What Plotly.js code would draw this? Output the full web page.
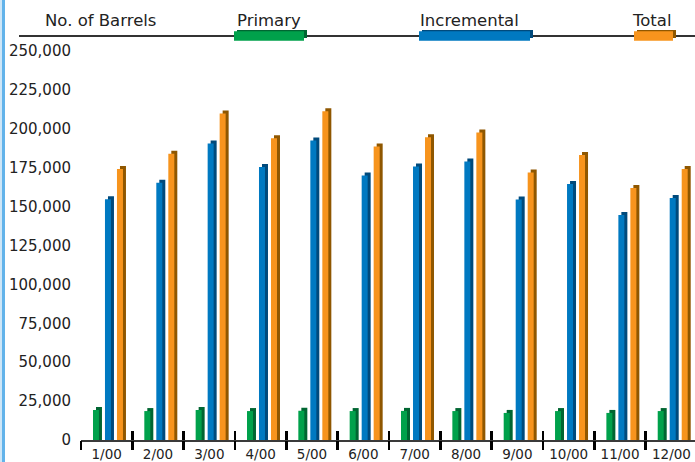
<!DOCTYPE html>
<html>
<head>
<meta charset="utf-8">
<script src="https://cdn.plot.ly/plotly-3.0.1.min.js"></script>
<style>
  html, body { margin: 0; padding: 0; background: #ffffff; }
  #wrap { position: relative; width: 695px; height: 462px; overflow: hidden; }
  #chart { position: absolute; left: 0; top: 0; width: 695px; height: 462px; }
  #edge1 { position: absolute; left: 0; top: 0; width: 2px; height: 462px; background: #cde6f7; }
  #edge2 { position: absolute; left: 2px; top: 0; width: 3px; height: 462px; background: #62b3ea; }
</style>
</head>
<body>
<div id="wrap">
  <div id="chart"></div>
  <div id="edge1"></div>
  <div id="edge2"></div>
</div>
<script>
// ---- data ----
const months = ['1/00', '2/00', '3/00', '4/00', '5/00', '6/00', '7/00', '8/00', '9/00', '10/00', '11/00', '12/00'];
const primary = [19300, 18600, 19300, 18600, 18800, 18600, 18700, 18600, 17400, 18600, 17400, 18600];
const incremental = [154800, 165300, 190500, 175400, 192500, 170000, 175800, 179000, 154500, 164500, 144600, 155500];
const total = [174100, 183900, 209800, 194000, 211300, 188600, 194500, 197600, 171900, 183100, 162000, 174100];
const yTickVals = [0, 25000, 50000, 75000, 100000, 125000, 150000, 175000, 200000, 225000, 250000];
const seriesNames = ['Primary', 'Incremental', 'Total'];
const headerTitle = 'No. of Barrels';

// ---- layout geometry ----
const W = 695, H = 462;
const M = { l: 81, r: 0, t: 51, b: 22 };
const plotW = W - M.l - M.r, plotH = H - M.t - M.b;
const pxPerCat = 51.34;
const xRange = [-0.5, -0.5 + plotW / pxPerCat];
const yMax = 250000;
const depthPx = 3;
const dY = depthPx * yMax / plotH;
const barPx = 6;

const colors = {
  Primary: ['#00a14b', '#006632'],
  Incremental: ['#0079c1', '#004a7c'],
  Total: ['#f7941d', '#8f5700']
};
const offsetsPx = { Primary: -13.7, Incremental: -1.7, Total: 10.3 };
const seriesVals = { Primary: primary, Incremental: incremental, Total: total };

const xIdx = months.map((m, i) => i);
const traces = [];
seriesNames.forEach(name => {
  const v = seriesVals[name];
  const [front, dark] = colors[name];
  traces.push({
    type: 'bar', x: xIdx, y: v.map(d => d + dY),
    width: barPx / pxPerCat, offset: (offsetsPx[name] + depthPx) / pxPerCat,
    marker: { color: dark, line: { width: 0 } }, showlegend: false, hoverinfo: 'skip'
  });
  traces.push({
    type: 'bar', x: xIdx, y: v, name: name,
    width: barPx / pxPerCat, offset: offsetsPx[name] / pxPerCat,
    marker: { color: front, line: { width: 0 } }, showlegend: false, hoverinfo: 'skip'
  });
});
// helper traces so the tick-only axes exist
traces.push({ type: 'scatter', x: [0], y: [0], xaxis: 'x2', mode: 'markers', marker: { opacity: 0 }, showlegend: false, hoverinfo: 'skip' });
traces.push({ type: 'scatter', x: [0], y: [0], xaxis: 'x3', mode: 'markers', marker: { opacity: 0 }, showlegend: false, hoverinfo: 'skip' });

// pixel -> paper helpers
const px = x => (x - M.l) / plotW;
const py = y => (H - M.b - y) / plotH;

const boundaries = months.map((m, i) => i - 0.5).concat([months.length - 0.5]);

const shapes = [
  { type: 'line', xref: 'paper', yref: 'paper', x0: px(19), x1: px(695), y0: py(36), y1: py(36), line: { color: '#333333', width: 2 } }
];
const legendBoxes = [
  { name: 'Primary', x0: 234, x1: 304 },
  { name: 'Incremental', x0: 419, x1: 530 },
  { name: 'Total', x0: 634, x1: 673 }
];
legendBoxes.forEach(b => {
  const [front, dark] = colors[b.name];
  shapes.push({ type: 'rect', xref: 'paper', yref: 'paper', x0: px(b.x0 + 3), x1: px(b.x1 + 3), y0: py(38), y1: py(30), fillcolor: dark, line: { width: 0 } });
  shapes.push({ type: 'rect', xref: 'paper', yref: 'paper', x0: px(b.x0), x1: px(b.x1), y0: py(40.7), y1: py(31.3), fillcolor: front, line: { width: 0 } });
});

const fontFam = 'DejaVu Sans, Verdana, sans-serif';
const annotations = [
  { text: headerTitle, x: px(43), xanchor: 'left' },
  { text: 'Primary', x: px(235), xanchor: 'left' },
  { text: 'Incremental', x: px(418), xanchor: 'left' },
  { text: 'Total', x: px(630), xanchor: 'left' }
].map(a => Object.assign({
  xref: 'paper', yref: 'paper', y: py(21), yanchor: 'middle', showarrow: false,
  font: { family: fontFam, size: 16.5, color: '#222222' }
}, a));

const layout = {
  width: W, height: H,
  margin: M,
  paper_bgcolor: '#ffffff', plot_bgcolor: '#ffffff',
  barmode: 'overlay',
  hovermode: false,
  showlegend: false,
  font: { family: fontFam, color: '#222222' },
  xaxis: {
    range: xRange, tickvals: xIdx, ticktext: months,
    ticks: 'outside', ticklen: 1, tickcolor: 'rgba(0,0,0,0)',
    showgrid: false, zeroline: false, showline: true, linecolor: '#3a3a3a', linewidth: 2,
    tickfont: { family: fontFam, size: 13.5, color: '#222222' }, fixedrange: true
  },
  xaxis2: {
    overlaying: 'x', matches: 'x', anchor: 'y', side: 'bottom',
    tickvals: boundaries, ticks: 'outside', ticklen: 9, tickwidth: 2.5, tickcolor: '#000000',
    showticklabels: false, showgrid: false, zeroline: false, showline: false
  },
  xaxis3: {
    overlaying: 'x', matches: 'x', anchor: 'y', side: 'bottom',
    tickvals: boundaries, ticks: 'inside', ticklen: 9, tickwidth: 2.5, tickcolor: '#000000',
    showticklabels: false, showgrid: false, zeroline: false, showline: false
  },
  yaxis: {
    range: [0, yMax], tickvals: yTickVals, tickformat: ',',
    ticks: 'outside', ticklen: 6, tickcolor: 'rgba(0,0,0,0)',
    showgrid: false, zeroline: false, showline: false,
    tickfont: { family: fontFam, size: 15, color: '#222222' }, fixedrange: true
  },
  shapes: shapes,
  annotations: annotations
};

Plotly.newPlot('chart', traces, layout, { staticPlot: true, displayModeBar: false });
</script>
</body>
</html>
